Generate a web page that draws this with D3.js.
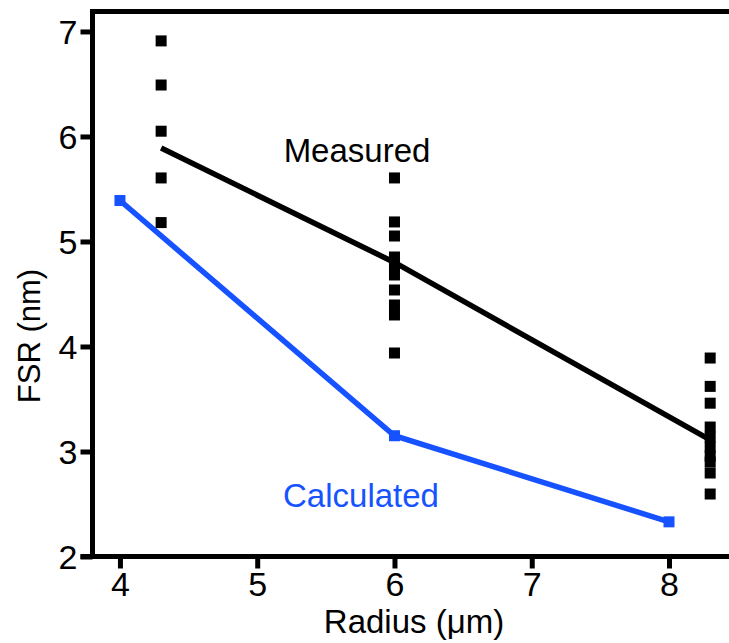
<!DOCTYPE html>
<html>
<head>
<meta charset="utf-8">
<script src="https://cdn.jsdelivr.net/npm/d3@7"></script>
<style>
  html, body { margin: 0; padding: 0; background: #fff; }
  svg { display: block; }
  text { font-family: "Liberation Sans", Arial, Helvetica, sans-serif; }
</style>
</head>
<body>
<svg id="chart" width="729" height="643"></svg>
<script>
// Radius (µm) of each measured group
const measuredRadius = [4.3, 6, 8.3];
// Individual FSR measurements (nm) for each radius group
const measured43 = [6.91, 6.49, 6.05, 5.605, 5.18];
const measured6 = [5.605, 5.186, 5.052, 4.852, 4.767, 4.681, 4.538, 4.395, 4.30, 3.938];
const measured83 = [3.89, 3.62, 3.46, 3.233, 3.138, 3.043, 2.957, 2.90, 2.795, 2.595];
// Trend line through the measured groups
const measuredTrend = [5.89, 4.80, 3.11];
// Calculated FSR (nm)
const calcRadius = [4, 6, 8];
const calcFSR = [5.39, 3.15, 2.33];
// Axis ticks
const xTicks = [4, 5, 6, 7, 8];
const yTicks = [2, 3, 4, 5, 6, 7];

const BLUE = "#1652ff";
const svg = d3.select("#chart");

const x = d3.scaleLinear().domain([3.8, 8.44]).range([92.5, 729.4]);
const y = d3.scaleLinear().domain([2, 7.19]).range([556.5, 11.5]);

// Axes
const xAxis = svg.append("g")
  .attr("transform", `translate(0,${y(2)})`)
  .call(d3.axisBottom(x).tickValues(xTicks).tickFormat(d3.format("d"))
    .tickSize(12).tickPadding(3));
const yAxis = svg.append("g")
  .attr("transform", `translate(${x(3.8)},0)`)
  .call(d3.axisLeft(y).tickValues(yTicks).tickFormat(d3.format("d"))
    .tickSize(12).tickPadding(3));
[xAxis, yAxis].forEach(g => {
  g.select(".domain").remove();
  g.selectAll(".tick line").attr("stroke", "#000").attr("stroke-width", 5);
  g.selectAll(".tick text").attr("fill", "#000")
    .style("font-size", "34px").attr("font-family", "Liberation Sans, Arial, sans-serif");
});
xAxis.selectAll(".tick text").attr("dy", "0.71em");
yAxis.selectAll(".tick text").attr("dy", "0.36em");

// Frame lines: left axis, top edge, bottom axis
const frame = svg.append("g").attr("stroke", "#000").attr("stroke-width", 5).attr("fill", "none");
frame.append("path")
  .attr("d", `M${x(3.8)},${y(2)}V${y(7.19)}H${x(8.44)}`)
  .attr("stroke-linejoin", "miter");
frame.append("line")
  .attr("x1", x(3.8) - 12).attr("x2", x(8.44))
  .attr("y1", y(2)).attr("y2", y(2));

// Lines
const line = d3.line().x(d => x(d[0])).y(d => y(d[1]));
svg.append("path")
  .datum(calcRadius.map((r, i) => [r, calcFSR[i]]))
  .attr("d", line).attr("fill", "none")
  .attr("stroke", BLUE).attr("stroke-width", 5.5);
svg.append("path")
  .datum(measuredRadius.map((r, i) => [r, measuredTrend[i]]))
  .attr("d", line).attr("fill", "none")
  .attr("stroke", "#000").attr("stroke-width", 5.5);

// Measured points
const groups = [measured43, measured6, measured83];
const pts = [];
groups.forEach((vals, gi) => vals.forEach(v => pts.push([measuredRadius[gi], v])));
const S = 11;
svg.append("g").selectAll("rect").data(pts).join("rect")
  .attr("x", d => x(d[0]) - S / 2).attr("y", d => y(d[1]) - S / 2)
  .attr("width", S).attr("height", S).attr("fill", "#000");

// Calculated points
svg.append("g").selectAll("rect").data(calcRadius.map((r, i) => [r, calcFSR[i]])).join("rect")
  .attr("x", d => x(d[0]) - S / 2).attr("y", d => y(d[1]) - S / 2)
  .attr("width", S).attr("height", S).attr("fill", BLUE);

// Series labels
svg.append("text").attr("x", 357).attr("y", 162).attr("text-anchor", "middle")
  .style("font-size", "33px").attr("fill", "#000").text("Measured");
svg.append("text").attr("x", 361).attr("y", 507).attr("text-anchor", "middle")
  .style("font-size", "33px").attr("fill", BLUE).text("Calculated");

// Axis titles
svg.append("text").attr("x", 414).attr("y", 633).attr("text-anchor", "middle")
  .style("font-size", "33px").attr("fill", "#000").text("Radius (μm)");
svg.append("text").attr("transform", "translate(40,336) rotate(-90)").attr("text-anchor", "middle")
  .style("font-size", "31px").attr("fill", "#000").text("FSR (nm)");
</script>
</body>
</html>
